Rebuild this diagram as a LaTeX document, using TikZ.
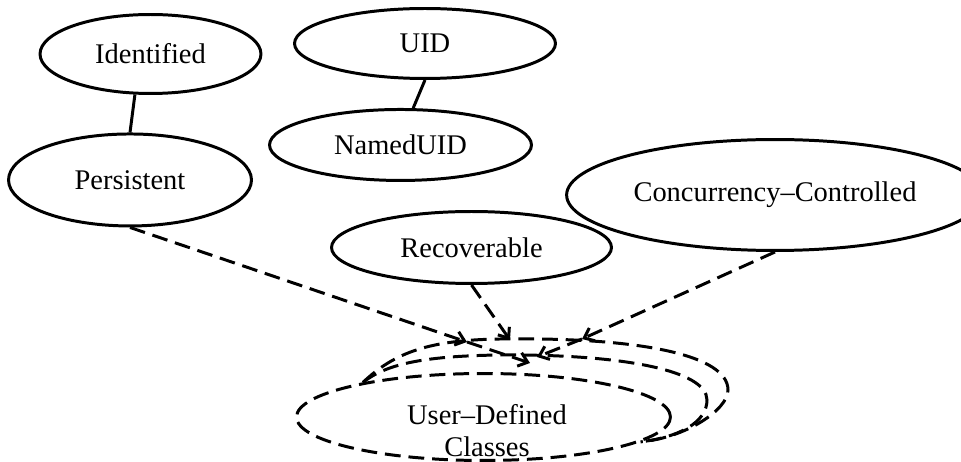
\documentclass[tikz,border=0pt]{standalone}
\usepackage{fontspec}
\setmainfont{Liberation Serif}
\usepackage{tikz}
\usetikzlibrary{shapes.geometric}
\usetikzlibrary{arrows.meta}
\tikzset{>={Straight Barb[length=5pt,width=8pt]}}

\begin{document}
\begin{tikzpicture}[x=0.02cm, y=-0.02cm]
  % mixin classes above, stack of user classes below
  \tikzstyle{every node}=[ellipse, draw=black, line width=1.7pt, font=\fontsize{16.2}{18.1}\selectfont]
  \tikzstyle{every edge}=[black, line width=1.7pt, draw]
  \tikzstyle{stack}=[dash pattern=on 9pt off 4.5pt, line width=1.7pt]
  \tikzstyle{mix}=[stack, ->]
  \useasboundingbox (0,0) rectangle (961,462);

  \node[minimum width=4.42cm, minimum height=1.58cm] (I) at (150.5,54) {Identified};
  \node[minimum width=4.86cm, minimum height=1.84cm] (P) [below of = I, node distance=2.52cm, xshift=-0.41cm] {Persistent};
  \draw (I.-111) edge (P.north);

  \node[minimum width=5.22cm, minimum height=1.40cm] (U) at (425,43.5) {UID};
  \node[minimum width=5.24cm, minimum height=1.42cm] (N) [below of = U, node distance=2.03cm, xshift=-0.49cm] {NamedUID};
  \draw (U.south) edge (N.71);

  \node[minimum width=5.6cm, minimum height=1.44cm] (R) at (471.5,247.5) {Recoverable};
  \node[minimum width=7.06cm, minimum height=2.22cm] (C) at (775,195) {Concurrency--Controlled};

  % front copy of the user classes, two copies behind it
  \node[stack, minimum width=7.48cm, minimum height=1.74cm] (D) at (483.5,417) {};
  \node[draw=none, shape=rectangle, inner sep=0pt, align=center] (Dt) at (487,430.5) {User--Defined\\Classes};
  \draw[stack] (D.164) .. controls (395,352) and (430,340) .. (500,339)
               .. controls (640,337) and (728,355) .. (728,390)
               .. controls (728,410) and (685,438) .. (D.-9);
  \draw[stack] (D.164) .. controls (385,365) and (420,356) .. (500,355)
               .. controls (620,354) and (707,370) .. (707,400)
               .. controls (707,422) and (680,437) .. (D.-9);

  \coordinate (t1) at (467,342);
  \coordinate (t2) at (510,340);
  \coordinate (t3) at (582,339);
  \coordinate (m1) at (530,363);
  \coordinate (m3) at (537,357);

  \draw[mix] (P.south) to (t1);
  \draw[mix] (R.south) to (t2);
  \draw[mix] (C.south) to (t3);
  \draw[mix] (t1) to (m1);
  \draw[mix] (t3) to (m3);
\end{tikzpicture}
\end{document}
